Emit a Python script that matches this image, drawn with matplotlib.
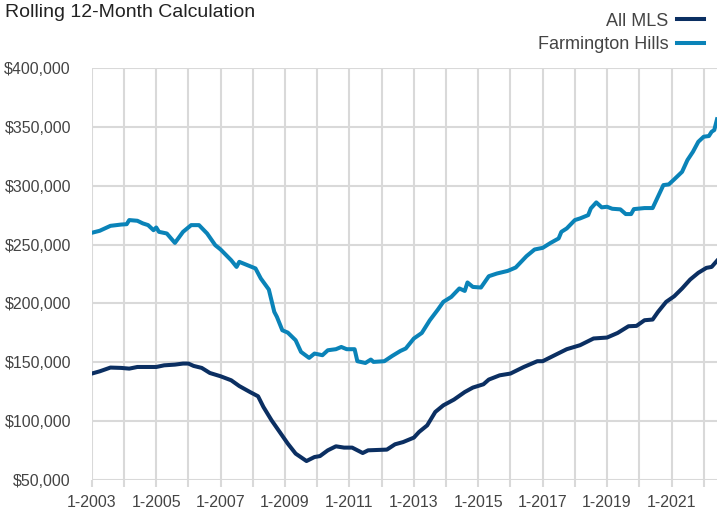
import pandas as pd
import matplotlib
matplotlib.use("Agg")
import matplotlib.pyplot as plt
import matplotlib.dates as mdates

# Farmington Hills, rolling 12-month median price
farm_dates = ["2003-01", "2003-04", "2003-08", "2003-12", "2004-02", "2004-03", "2004-06",
              "2004-08", "2004-10", "2004-12", "2005-01", "2005-02", "2005-05", "2005-08",
              "2005-11", "2006-02", "2006-05", "2006-08", "2006-11", "2007-01", "2007-05",
              "2007-07", "2007-08", "2007-11", "2008-02", "2008-04", "2008-07", "2008-09",
              "2008-10", "2008-12", "2009-02", "2009-05", "2009-07", "2009-10", "2009-12",
              "2010-03", "2010-05", "2010-08", "2010-10", "2010-12", "2011-03", "2011-04",
              "2011-07", "2011-09", "2011-10", "2012-02", "2012-05", "2012-08", "2012-10",
              "2013-01", "2013-04", "2013-07", "2013-10", "2013-12", "2014-03", "2014-06",
              "2014-08", "2014-09", "2014-11", "2015-02", "2015-05", "2015-08", "2015-12",
              "2016-03", "2016-07", "2016-10", "2017-01", "2017-04", "2017-07", "2017-08",
              "2017-10", "2018-01", "2018-03", "2018-06", "2018-07", "2018-09", "2018-11",
              "2019-01", "2019-03", "2019-06", "2019-08", "2019-10", "2019-11", "2020-03",
              "2020-06", "2020-10", "2020-12", "2021-02", "2021-05", "2021-07", "2021-09",
              "2021-11", "2022-01", "2022-03", "2022-04", "2022-05", "2022-06"]
farm_vals = [260.0, 261.7, 265.9, 267.0, 267.3, 270.8, 270.2,
             268.0, 266.5, 262.2, 264.5, 260.8, 259.4, 251.4,
             260.8, 266.5, 266.5, 259.4, 249.5, 245.8, 236.7,
             231.0, 235.3, 232.5, 229.7, 221.2, 211.8, 192.8,
             188.5, 177.2, 175.2, 168.7, 158.8, 153.7, 157.4,
             156.0, 160.2, 161.1, 163.0, 161.1, 161.1, 150.9,
             149.4, 152.3, 150.3, 150.9, 155.4, 159.6, 161.7,
             170.2, 174.9, 185.7, 194.8, 201.3, 205.5, 212.7,
             210.6, 217.8, 214.0, 213.5, 223.1, 225.4, 227.6,
             230.5, 240.1, 245.8, 247.2, 251.4, 255.2, 260.8,
             263.7, 270.8, 272.2, 275.0, 280.7, 285.8, 281.6,
             282.1, 280.4, 279.9, 275.9, 275.9, 280.1, 281.0,
             281.0, 300.5, 301.1, 305.4, 311.8, 321.8, 328.8,
             337.3, 341.6, 342.2, 345.8, 347.3, 356.4]

# All MLS
mls_dates = ["2003-01", "2003-04", "2003-08", "2003-12", "2004-03", "2004-06", "2005-01",
             "2005-04", "2005-08", "2005-11", "2006-01", "2006-03", "2006-06", "2006-09",
             "2007-01", "2007-05", "2007-08", "2007-12", "2008-03", "2008-05", "2008-08",
             "2008-11", "2009-02", "2009-05", "2009-09", "2009-12", "2010-02", "2010-05",
             "2010-08", "2010-11", "2011-02", "2011-06", "2011-08", "2012-03", "2012-06",
             "2012-09", "2013-01", "2013-03", "2013-06", "2013-09", "2013-12", "2014-04",
             "2014-08", "2014-11", "2015-03", "2015-05", "2015-09", "2016-01", "2016-06",
             "2016-11", "2017-01", "2017-05", "2017-10", "2018-03", "2018-08", "2019-01",
             "2019-05", "2019-09", "2019-12", "2020-03", "2020-06", "2020-08", "2020-11",
             "2021-02", "2021-05", "2021-08", "2021-11", "2022-02", "2022-04", "2022-06"]
mls_vals = [140.4, 142.3, 145.5, 145.2, 144.6, 146.0, 146.0,
            147.4, 148.0, 148.9, 148.9, 146.9, 145.2, 140.9,
            138.1, 134.7, 129.8, 124.7, 121.1, 112.0, 100.7,
            90.8, 80.9, 72.4, 66.1, 69.5, 70.3, 75.2,
            78.6, 77.5, 77.5, 72.9, 75.2, 75.8, 80.3,
            82.2, 86.0, 90.8, 96.4, 107.8, 113.4, 118.3,
            124.7, 128.5, 131.3, 135.3, 138.9, 140.4, 146.0,
            150.9, 150.9, 155.4, 161.1, 164.5, 170.2, 171.0,
            174.9, 180.6, 180.9, 185.7, 186.3, 192.8, 201.3,
            206.1, 212.7, 220.3, 226.0, 230.2, 231.0, 236.2]

y_ticks = [50000, 100000, 150000, 200000, 250000, 300000, 350000, 400000]
label_years = list(range(2003, 2022, 2))
grid_years = list(range(2003, 2023))

mls_color = "#0b2f62"
farm_color = "#0a83b8"
grid_color = "#d9d9d9"
text_color = "#444444"

plt.rcParams['font.family'] = ['Liberation Sans', 'DejaVu Sans']

fig = plt.figure(figsize=(7.17, 5.15), dpi=100)
ax = fig.add_axes([0.128, 0.068, 0.872, 0.8])

fd = pd.to_datetime(farm_dates)
md = pd.to_datetime(mls_dates)
l1, = ax.plot(md, [v * 1000 for v in mls_vals], color=mls_color, lw=2.9, label="All MLS",
              solid_joinstyle="round", zorder=3)
l2, = ax.plot(fd, [v * 1000 for v in farm_vals], color=farm_color, lw=2.9,
              label="Farmington Hills", solid_joinstyle="round", zorder=3)

ax.set_xlim(pd.Timestamp("2003-01-01"), pd.Timestamp("2022-06-01"))
ax.set_ylim(50000, 400000)
ax.set_yticks(y_ticks)
ax.set_yticklabels([f"${v:,.0f}" for v in y_ticks])

ax.set_xticks([pd.Timestamp(f"{y}-01-01") for y in label_years])
ax.set_xticklabels([f"1-{y}" for y in label_years])
ax.set_xticks([pd.Timestamp(f"{y}-01-01") for y in grid_years], minor=True)

ax.grid(True, which="both", axis="x", color=grid_color, lw=1.5, zorder=0)
ax.grid(True, which="major", axis="y", color=grid_color, lw=1.5, zorder=0)
for s in ax.spines.values():
    s.set_visible(False)

ax.tick_params(axis="x", which="both", length=5, width=1.5, color=grid_color,
               labelsize=11.5, labelcolor=text_color, pad=6)
ax.tick_params(axis="y", length=0, labelsize=11.5, labelcolor=text_color, pad=15)

fig.text(0.007, 0.975, "Rolling 12-Month Calculation", fontsize=14, color="#222222",
         ha="left", va="center")

fig.legend(handles=[l1, l2], loc="upper right", bbox_to_anchor=(1.0, 1.0),
           markerfirst=False, frameon=False, fontsize=13, handlelength=1.5,
           handletextpad=0.5, labelspacing=0.35, borderaxespad=0.3,
           labelcolor=text_color)

fig.savefig("out.png", dpi=100)
